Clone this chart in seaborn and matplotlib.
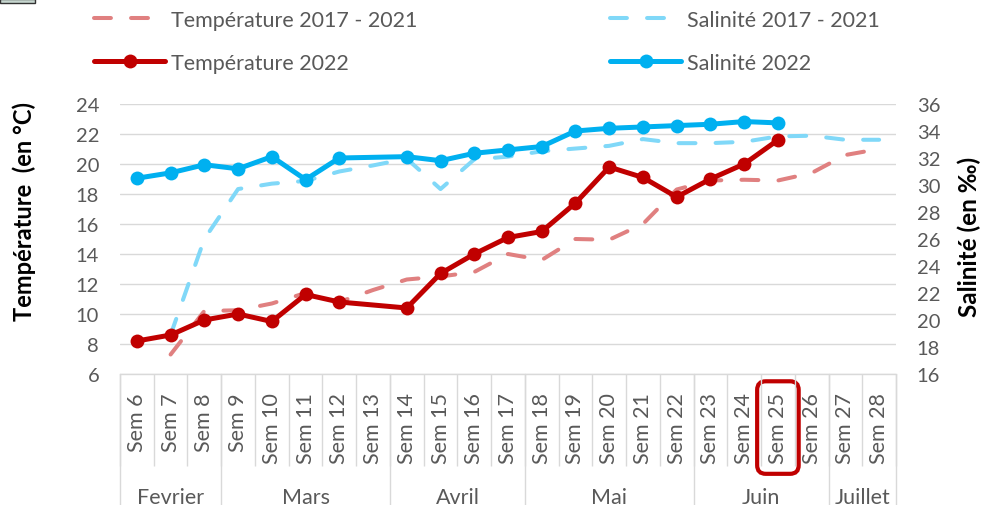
import numpy as np
import pandas as pd
import matplotlib
matplotlib.use("Agg")
import matplotlib.pyplot as plt
from matplotlib.patches import Rectangle
import seaborn as sns

nan = np.nan

# categories
weeks = [f"Sem {n}" for n in range(6, 29)]
months = ["Fevrier", "Mars", "Avril", "Mai", "Juin", "Juillet"]
weeks_per_month = [3, 5, 4, 5, 4, 2]
highlight_week = "Sem 25"

# series (temperature in °C, salinity in ‰), Sem 6 .. Sem 28
temp_2017_2021 = [nan, 7.3, 10.2, 10.25, 10.7, 11.4, 10.8, 11.6, 12.3, 12.5, 12.8, 14.0,
                  13.6, 15.0, 14.95, 16.0, 18.3, 18.9, 18.95, 18.9, 19.4, 20.6, 21.0]
temp_2022 = [8.2, 8.6, 9.6, 10.0, 9.5, 11.3, 10.8, nan, 10.4, 12.7, 14.0, 15.1,
             15.5, 17.4, 19.8, 19.1, 17.8, 19.0, 20.0, 21.6, nan, nan, nan]
sal_2017_2021 = [nan, 18.9, 26.0, 29.7, 30.1, 30.3, 31.0, 31.45, 31.95, 29.7, 31.9, 32.1,
                 32.5, 32.7, 32.9, 33.4, 33.1, 33.1, 33.2, 33.6, 33.65, 33.35, 33.35]
sal_2022 = [30.5, 30.9, 31.5, 31.2, 32.1, 30.4, 32.0, nan, 32.1, 31.8, 32.35, 32.6,
            32.85, 34.0, 34.2, 34.3, 34.4, 34.5, 34.7, 34.6, nan, nan, nan]

temp_ticks = list(range(6, 25, 2))
sal_ticks = list(range(16, 37, 2))

RED = "#c00000"
RED_LIGHT = "#e08080"
BLUE = "#00b0f0"
BLUE_LIGHT = "#80d8f8"
GREY_TXT = "#595959"
GRID = "#d9d9d9"

df = pd.DataFrame({
    "pos": np.arange(len(weeks)),
    "week": weeks,
    "temp_moy": temp_2017_2021,
    "temp_2022": temp_2022,
    "sal_moy": sal_2017_2021,
    "sal_2022": sal_2022,
})

sns.set_theme(style="white")
plt.rcParams["font.family"] = ["Lato", "DejaVu Sans"]

fig = plt.figure(figsize=(9.87, 5.06), dpi=100)
ax = fig.add_axes([120 / 987, 1 - 375 / 506, 776 / 987, 270 / 506])
ax_sal = ax.twinx()
ax_top = ax.twinx()   # temperature lines drawn above salinity

dash = (0, (4.2, 5.0))


def draw(axis, col, color, label, dashed):
    sub = df[["pos", col]].dropna()
    if dashed:
        sns.lineplot(data=sub, x="pos", y=col, ax=axis, color=color, lw=2.9,
                     linestyle=dash, dash_capstyle="round", label=label,
                     estimator=None, sort=False, legend=False)
    else:
        sns.lineplot(data=sub, x="pos", y=col, ax=axis, color=color, lw=3.6,
                     marker="o", markersize=10, mec=color, mew=0,
                     solid_joinstyle="round", label=label,
                     estimator=None, sort=False, legend=False)
    return axis.lines[-1]


h_sal_moy = draw(ax_sal, "sal_moy", BLUE_LIGHT, "Salinité 2017 - 2021", True)
h_sal_22 = draw(ax_sal, "sal_2022", BLUE, "Salinité 2022", False)
h_temp_moy = draw(ax_top, "temp_moy", RED_LIGHT, "Température 2017 - 2021", True)
h_temp_22 = draw(ax_top, "temp_2022", RED, "Température 2022", False)

# scales
ax.set_xlim(-0.5, len(weeks) - 0.5)
ax.set_ylim(6, 24)
ax_top.set_ylim(6, 24)
ax_sal.set_ylim(16, 36)

ax.set_yticks(temp_ticks)
ax.grid(axis="y", color=GRID, lw=1)
ax.grid(axis="x", visible=False)
ax_sal.set_yticks(sal_ticks)
ax_sal.grid(False)
ax_top.grid(False)
ax_top.set_yticks([])
ax_top.set_ylabel("")
ax_top.set_xlabel("")
ax_sal.set_xlabel("")

for a in (ax, ax_sal, ax_top):
    for s in a.spines.values():
        s.set_visible(False)
ax.spines["bottom"].set_visible(True)
ax.spines["bottom"].set_color(GRID)
ax.spines["bottom"].set_linewidth(1)

ax.tick_params(axis="y", length=0, pad=15, labelsize=14.5, labelcolor=GREY_TXT)
ax_sal.tick_params(axis="y", length=0, pad=15, labelsize=14.5, labelcolor=GREY_TXT)

# week labels + separators
ax.set_xticks(df["pos"], weeks, rotation=90)
ax.set_xticks(np.arange(-0.5, len(weeks)), minor=True)
ax.tick_params(axis="x", which="major", bottom=False, pad=7, labelsize=15.5,
               labelcolor=GREY_TXT)
ax.tick_params(axis="x", which="minor", bottom=True, length=66, width=1,
               color=GRID, direction="out")
ax.set_xlabel("")

for lab in ax.get_xticklabels():
    if lab.get_text() == highlight_week:
        lab.set_bbox(dict(boxstyle="round,pad=0.5,rounding_size=0.4",
                          fc="none", ec=RED, lw=3))

# month level of the category axis
bounds = np.concatenate([[0], np.cumsum(weeks_per_month)]) - 0.5
xt = ax.get_xaxis_transform()
for b in bounds:
    ax.plot([b, b], [0, -131 / 270], transform=xt, color=GRID, lw=1, clip_on=False)
for m, lo, hi in zip(months, bounds[:-1], bounds[1:]):
    ax.text((lo + hi) / 2, -0.455, m, transform=xt, ha="center", va="center",
            fontsize=15.5, color=GREY_TXT)

# axis titles
ax.set_ylabel("Température  (en °C)", fontsize=17, fontweight="bold",
              color="black", va="center")
ax.yaxis.set_label_coords(-0.124, 0.607)
ax_sal.set_ylabel("Salinité (en ‰)", fontsize=17.5, fontweight="bold",
                  color="black", va="center", rotation=90)
ax_sal.yaxis.set_label_coords(1.094, 0.511)

# legends
leg_kw = dict(loc="upper left", frameon=False, fontsize=15.5, handlelength=3.3,
              handletextpad=0.3, labelspacing=1.05, borderpad=0, borderaxespad=0,
              labelcolor=GREY_TXT)
fig.legend(handles=[h_temp_moy, h_temp_22], bbox_to_anchor=(94 / 987, 1 - 11 / 506), **leg_kw)
fig.legend(handles=[h_sal_moy, h_sal_22], bbox_to_anchor=(610 / 987, 1 - 11 / 506), **leg_kw)

# small box fragment in the top-left corner of the original
fig.patches.append(Rectangle((0, 1 - 4 / 506), 35 / 987, 4 / 506, transform=fig.transFigure,
                             fc="#c6d6cf", ec="#333333", lw=1))

fig.savefig("out.png", dpi=100)
